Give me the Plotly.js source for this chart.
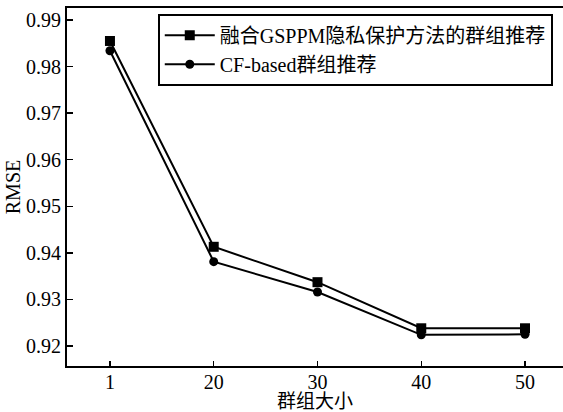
<!DOCTYPE html>
<html>
<head>
<meta charset="utf-8">
<script src="https://cdn.plot.ly/plotly-3.0.1.min.js"></script>
<style>html,body{margin:0;padding:0;background:#fff;}#chart{width:563px;height:412px;}</style>
</head>
<body>
<div id="chart"></div>
<script>
const groupSizes = ["1", "20", "30", "40", "50"];
const gsppmName = "融合GSPPM隐私保护方法的群组推荐";
const gsppmRMSE = [0.9855, 0.9413, 0.9337, 0.9238, 0.9238];
const cfName = "CF-based群组推荐";
const cfRMSE = [0.9834, 0.9381, 0.9316, 0.9224, 0.9225];
const yTicks = [0.92, 0.93, 0.94, 0.95, 0.96, 0.97, 0.98, 0.99];

const FONT = "'Liberation Serif', 'Times New Roman', 'Noto Sans CJK SC', serif";

const traces = [
  {x: groupSizes, y: gsppmRMSE, name: gsppmName, type: "scatter", mode: "lines+markers",
   line: {color: "#000", width: 2}, marker: {symbol: "square", size: 10, color: "#000"}},
  {x: groupSizes, y: cfRMSE, name: cfName, type: "scatter", mode: "lines+markers",
   line: {color: "#000", width: 2}, marker: {symbol: "circle", size: 9, color: "#000"}}
];

const layout = {
  width: 563, height: 412,
  margin: {l: 67, r: 0, t: 8, b: 46},
  paper_bgcolor: "#fff", plot_bgcolor: "#fff",
  font: {family: FONT, size: 20, color: "#000"},
  showlegend: true,
  legend: {x: 0.183, xanchor: "left", y: 0.984, yanchor: "top",
           bgcolor: "#fff", bordercolor: "#000", borderwidth: 2, itemwidth: 50,
           font: {family: FONT, size: 20, color: "#000"}, tracegroupgap: 0},
  xaxis: {type: "category", range: [-0.414, 4.366], showline: true, linecolor: "#000", linewidth: 2,
          mirror: true, ticks: "inside", ticklen: 5, tickcolor: "#000", tickwidth: 1.5,
          showgrid: false, zeroline: false, ticklabelstandoff: -3,
          title: {text: "群组大小", font: {family: FONT, size: 19}, standoff: 6},
          tickfont: {family: FONT, size: 20}},
  yaxis: {range: [0.9157, 0.99258], tickvals: yTicks, ticktext: yTicks.map(v => v.toFixed(2)),
          showline: true, linecolor: "#000", linewidth: 2, mirror: false,
          ticks: "inside", ticklen: 6, tickcolor: "#000", tickwidth: 1.5,
          showgrid: false, zeroline: false,
          title: {text: "RMSE", font: {family: FONT, size: 20}, standoff: 0},
          tickfont: {family: FONT, size: 20}}
};

Plotly.newPlot("chart", traces, layout, {displayModeBar: false, staticPlot: true});
</script>
</body>
</html>
